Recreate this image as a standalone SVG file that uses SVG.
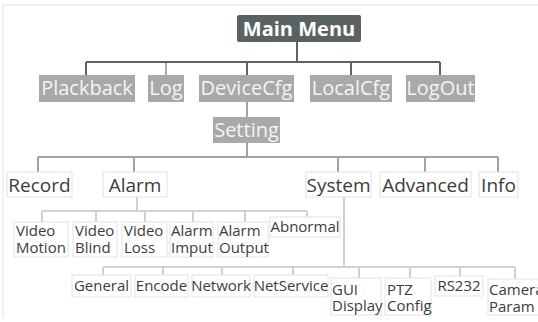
<svg xmlns="http://www.w3.org/2000/svg" width="538" height="322" viewBox="0 0 538 322">
<style>
text{font-family:"Open Sans","Noto Sans","DejaVu Sans",sans-serif}
.frame{fill:none;stroke:#ececec;stroke-width:1.5}
.top{fill:#5b6361}
.topt{fill:#ffffff;font-size:20px;font-weight:bold;text-anchor:middle}
.l1{fill:#a9a9a9}
.l1t{fill:#f4f4f4;font-size:20px;text-anchor:middle}
.l3{fill:#ffffff;stroke:#e2e2e2;stroke-width:1}
.l3t{fill:#3c3c3c;font-size:19px;text-anchor:middle}
.l4{fill:#ffffff;stroke:#e2e2e2;stroke-width:1}
.l4t{fill:#3c3c3c;font-size:15px}
.l4c{fill:#3c3c3c;font-size:15px;text-anchor:middle}
.c1{fill:none;stroke:#5d6462;stroke-width:2}
.c1b{fill:none;stroke:#aaaaaa;stroke-width:2}
.c2{fill:none;stroke:#a2a2a2;stroke-width:2}
.c3{fill:none;stroke:#d0d0d0;stroke-width:2}
</style>
<path class="frame" d="M3,318 V5 H538"/>
<g id="connectors">
<path class="c1" d="M297,42 V62 M86,62 H440 M86,62 V75 M247,62 V75 M351,62 V75 M440,62 V75"/>
<path class="c1b" d="M166,63 V75"/>
<path class="c2" d="M247,102 V117 M247,143 V157 M38,157 H498 M38,157 V172 M134,157 V172 M338,157 V172 M425,157 V172 M498,157 V172"/>
<path class="c3" d="M137,197 V211 M42,211 H307 M42,211 V222 M96,211 V222 M145,211 V222 M193,211 V222 M245,211 V222 M307,211 V217"/>
<path class="c3" d="M344,197 V267 M103,267 H515 M103,267 V275 M163,267 V275 M222,267 V275 M293,267 V275 M359,267 V278 M410,267 V278 M460,267 V276 M515,267 V279"/>
</g>
<g id="main-menu"><rect class="top" x="237" y="15" width="124" height="27" rx="2"/><text class="topt" x="299" y="35.5">Main Menu</text></g>
<g id="plackback"><rect class="l1" x="39" y="75" width="96" height="27"/><text class="l1t" x="87" y="95">Plackback</text></g>
<g id="log"><rect class="l1" x="148" y="75" width="36" height="27"/><text class="l1t" x="166" y="95">Log</text></g>
<g id="devicecfg"><rect class="l1" x="199" y="75" width="95" height="27"/><text class="l1t" x="246.5" y="95">DeviceCfg</text></g>
<g id="localcfg"><rect class="l1" x="310" y="75" width="82" height="27"/><text class="l1t" x="351" y="95">LocalCfg</text></g>
<g id="logout"><rect class="l1" x="406" y="75" width="69" height="27"/><text class="l1t" x="440.5" y="95">LogOut</text></g>
<g id="setting"><rect class="l1" x="213" y="117" width="67" height="26"/><text class="l1t" x="246.5" y="137">Setting</text></g>
<g id="record"><rect class="l3" x="7" y="172" width="65" height="25"/><text class="l3t" x="39.5" y="191.5">Record</text></g>
<g id="alarm"><rect class="l3" x="103" y="172" width="64" height="25"/><text class="l3t" x="135" y="191.5">Alarm</text></g>
<g id="system"><rect class="l3" x="306" y="172" width="65" height="25"/><text class="l3t" x="338.5" y="191.5">System</text></g>
<g id="advanced"><rect class="l3" x="380" y="172" width="91" height="25"/><text class="l3t" x="425.5" y="191.5">Advanced</text></g>
<g id="info"><rect class="l3" x="479" y="172" width="39" height="25"/><text class="l3t" x="498.5" y="191.5">Info</text></g>
<g id="video-motion"><rect class="l4" x="14" y="222" width="54" height="35"/><text class="l4t" x="16" y="236">Video<tspan x="16" dy="17">Motion</tspan></text></g>
<g id="video-blind"><rect class="l4" x="73" y="222" width="44" height="35"/><text class="l4t" x="75" y="236">Video<tspan x="75" dy="17">Blind</tspan></text></g>
<g id="video-loss"><rect class="l4" x="122" y="222" width="45" height="35"/><text class="l4t" x="124" y="236">Video<tspan x="124" dy="17">Loss</tspan></text></g>
<g id="alarm-imput"><rect class="l4" x="170" y="222" width="43" height="35"/><text class="l4t" x="171" y="236">Alarm<tspan x="171" dy="17">Imput</tspan></text></g>
<g id="alarm-output"><rect class="l4" x="218" y="222" width="50" height="35"/><text class="l4t" x="219" y="236">Alarm<tspan x="219" dy="17">Output</tspan></text></g>
<g id="abnormal"><rect class="l4" x="270" y="217" width="70" height="20"/><text class="l4c" x="305" y="232">Abnormal</text></g>
<g id="general"><rect class="l4" x="72" y="275" width="59" height="22"/><text class="l4c" x="101.5" y="291">General</text></g>
<g id="encode"><rect class="l4" x="135" y="275" width="53" height="22"/><text class="l4c" x="161.5" y="291">Encode</text></g>
<g id="network"><rect class="l4" x="192" y="275" width="58" height="22"/><text class="l4c" x="221" y="291">Network</text></g>
<g id="netservice"><rect class="l4" x="254" y="275" width="74" height="22"/><text class="l4c" x="291" y="291">NetService</text></g>
<g id="gui-display"><rect class="l4" x="331" y="278" width="50" height="37"/><text class="l4t" x="332" y="295">GUI<tspan x="332" dy="16">Display</tspan></text></g>
<g id="ptz-config"><rect class="l4" x="385" y="278" width="46" height="37"/><text class="l4t" x="387" y="295">PTZ<tspan x="387" dy="16">Config</tspan></text></g>
<g id="rs232"><rect class="l4" x="435" y="276" width="48" height="20"/><text class="l4c" x="459" y="291">RS232</text></g>
<g id="camera-param"><rect class="l4" x="488" y="279" width="58" height="36"/><text class="l4t" x="489" y="295">Camera<tspan x="489" dy="17">Param</tspan></text></g>
</svg>
